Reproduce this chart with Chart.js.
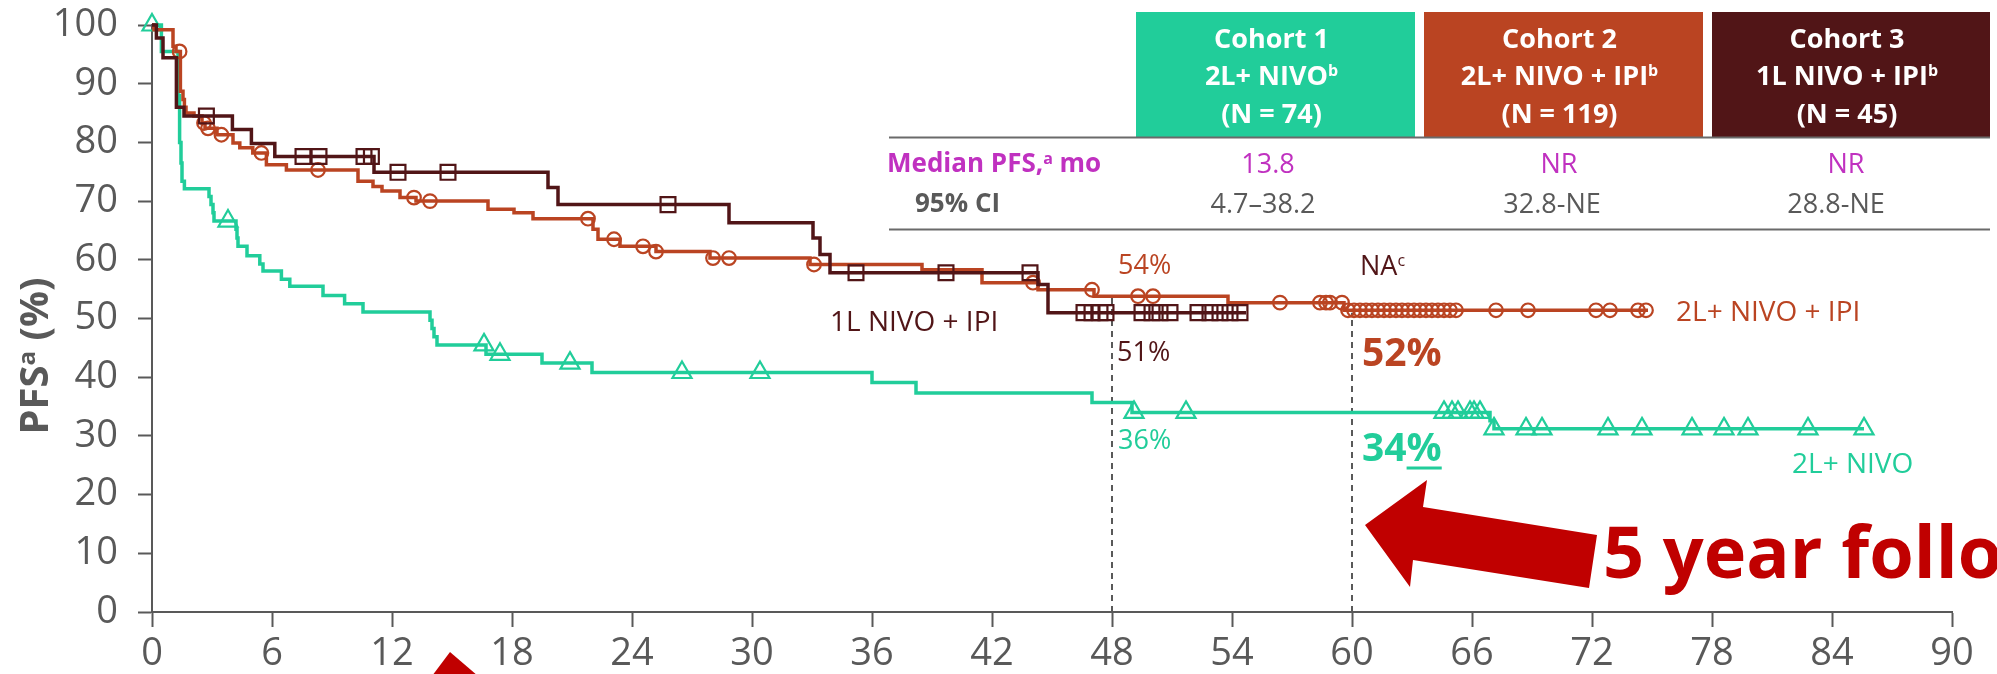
<!DOCTYPE html>
<html lang="en">
<head>
<meta charset="UTF-8">
<title>PFS by cohort</title>
<script src="https://cdn.jsdelivr.net/npm/chart.js"></script>
<style>
  html, body { margin: 0; padding: 0; background: #fff; }
</style>
</head>
<body>
<canvas id="pfsChart" width="1997" height="674"></canvas>
<script>
// KM curves: month of each drop and PFS (%) right after it
const nivoMonths = [0, 0.47, 1.3, 1.38, 1.45, 1.5, 1.62, 2.85, 2.95, 3.05, 3.1, 4.2, 4.25, 4.3, 4.75, 5.39, 5.55, 6.47, 6.89, 8.55, 9.63, 10.55, 13.9, 14.0, 14.1, 14.25, 16.7, 19.5, 22.0, 36.0, 38.2, 47.0, 49.0, 66.9, 67.1, 85.6];
const nivoPfs    = [100, 95.5, 88, 80, 76.5, 73.4, 72.1, 70.8, 69.4, 68.0, 66.6, 65.2, 63.7, 62.3, 60.7, 59.3, 58.1, 56.7, 55.5, 53.9, 52.5, 51.1, 49.7, 48.3, 46.9, 45.5, 43.9, 42.4, 40.8, 39.1, 37.3, 35.7, 34.0, 32.6, 31.2, 31.2];
const nivoCensored = [0, 3.8, 16.6, 17.4, 20.9, 26.5, 30.4, 49.1, 51.7, 64.6, 65.0, 65.3, 65.9, 66.1, 66.4, 67.1, 68.7, 69.5, 72.8, 74.5, 77.0, 78.6, 79.8, 82.8, 85.6];

const combo2Months = [0, 0.1, 1.05, 1.2, 1.42, 1.55, 1.62, 1.7, 2.1, 2.5, 2.65, 3.25, 4.05, 4.39, 5.04, 5.72, 6.72, 10.3, 11.05, 11.5, 12.4, 13.2, 16.8, 18.1, 19.05, 22.05, 22.3, 23.4, 25.2, 27.9, 32.9, 38.5, 41.5, 44.3, 47.1, 53.8, 59.6, 74.8];
const combo2Pfs    = [100, 99.2, 96.4, 95.5, 88.7, 87.3, 86.0, 85.0, 84.5, 83.3, 82.4, 81.3, 79.9, 79.1, 78.2, 76.2, 75.3, 73.4, 72.5, 71.7, 70.6, 70.0, 68.6, 68.0, 67.0, 65.2, 63.5, 62.3, 61.4, 60.3, 59.2, 58.3, 56.1, 54.9, 53.8, 52.7, 51.4, 51.4];
const combo2Censored = [1.38, 2.6, 2.8, 3.47, 5.47, 8.3, 13.1, 13.9, 21.8, 23.1, 24.55, 25.2, 28.05, 28.85, 33.1, 44.05, 47.0, 49.3, 50.05, 56.4, 58.4, 58.7, 58.9, 59.5, 59.8, 60.1, 60.4, 60.7, 61.0, 61.3, 61.6, 61.9, 62.2, 62.5, 62.8, 63.1, 63.4, 63.7, 64.0, 64.3, 64.6, 64.9, 65.2, 67.2, 68.8, 72.2, 72.9, 74.3, 74.7];

const combo1Months = [0, 0.22, 0.55, 1.22, 1.6, 4.02, 4.97, 6.14, 11.1, 19.8, 20.3, 28.85, 33.05, 33.4, 33.9, 44.3, 44.8, 54.7];
const combo1Pfs    = [100, 97.8, 94.4, 86.0, 84.5, 82.2, 79.8, 77.6, 74.9, 72.3, 69.4, 66.3, 63.7, 60.9, 57.8, 55.8, 51.0, 51.0];
const combo1Censored = [2.72, 7.55, 8.35, 10.6, 10.97, 12.3, 14.8, 25.8, 35.2, 39.7, 43.9, 46.6, 47.0, 47.4, 47.7, 49.5, 50.0, 50.4, 50.9, 52.3, 52.9, 53.4, 53.9, 54.4];

const monthTicks = [0, 6, 12, 18, 24, 30, 36, 42, 48, 54, 60, 66, 72, 78, 84, 90];
const pfsTicks = [0, 10, 20, 30, 40, 50, 60, 70, 80, 90, 100];

// table
const cohortNames = ['Cohort 1', 'Cohort 2', 'Cohort 3'];
const cohortRegimens = ['2L+ NIVO', '2L+ NIVO + IPI', '1L NIVO + IPI'];
const cohortN = ['(N = 74)', '(N = 119)', '(N = 45)'];
const medianPfs = ['13.8', 'NR', 'NR'];
const ci95 = ['4.7–38.2', '32.8-NE', '28.8-NE'];

// landmark rates
const landmarkMonths = [48, 60];
const landmarkTops = [53.5, 51.0];

const GREEN = '#21CD9A';
const ORANGE = '#BA4422';
const MAROON = '#511517';
const MAGENTA = '#C031C0';
const GRAY = '#595959';
const RED = '#C00000';
const FONT = '"Open Sans", Lato, sans-serif';

function curve(months, pfs) {
    return months.map((m, i) => ({ x: m, y: pfs[i] }));
}

// censor marks sit on the curve at their time
function censorPoints(censored, months, pfs) {
    return censored.map(t => {
        let v = pfs[0];
        for (let i = 0; i < months.length; i++) {
            if (months[i] <= t) v = pfs[i];
        }
        return { x: t, y: v };
    });
}

function drawRuns(ctx, runs, x, cy, size, weight, color, align) {
    const supSize = Math.round(size * 0.6);
    const widths = runs.map(([t, sup]) => {
        ctx.font = `${weight} ${sup ? supSize : size}px ${FONT}`;
        return ctx.measureText(t).width;
    });
    const total = widths.reduce((a, b) => a + b, 0);
    let cx = align === 'center' ? x - total / 2 : (align === 'right' ? x - total : x);
    const start = cx;
    const base = cy + size * 0.36;
    ctx.fillStyle = color;
    ctx.textAlign = 'left';
    ctx.textBaseline = 'alphabetic';
    runs.forEach(([t, sup], i) => {
        ctx.font = `${weight} ${sup ? supSize : size}px ${FONT}`;
        ctx.fillText(t, cx, sup ? base - size * 0.33 : base);
        cx += widths[i];
    });
    return { start, widths, base };
}

const overlay = {
    id: 'overlay',
    beforeDatasetsDraw(chart) {
        const ctx = chart.ctx;
        const xs = chart.scales.x, ys = chart.scales.y;
        ctx.save();
        ctx.strokeStyle = GRAY;
        ctx.lineWidth = 2;
        ctx.setLineDash([6, 5]);
        landmarkMonths.forEach((m, i) => {
            const px = Math.round(xs.getPixelForValue(m));
            ctx.beginPath();
            ctx.moveTo(px, ys.getPixelForValue(0));
            ctx.lineTo(px, ys.getPixelForValue(landmarkTops[i]));
            ctx.stroke();
        });
        ctx.restore();
    },
    afterDraw(chart) {
        const ctx = chart.ctx;
        const xs = chart.scales.x, ys = chart.scales.y;
        ctx.save();

        // y axis title
        ctx.save();
        ctx.translate(34, 356);
        ctx.rotate(-Math.PI / 2);
        drawRuns(ctx, [['PFS', false], ['a', true], [' (%)', false]], 0, 0, 40, 'bold', GRAY, 'center');
        ctx.restore();

        // header boxes
        const boxColors = [GREEN, ORANGE, MAROON];
        const boxLeft = [1136, 1424, 1712];
        const boxRight = [1415, 1703, 1990];
        boxColors.forEach((c, i) => {
            ctx.fillStyle = c;
            ctx.fillRect(boxLeft[i], 12, boxRight[i] - boxLeft[i], 125);
            const mid = (boxLeft[i] + boxRight[i]) / 2 - 4;
            drawRuns(ctx, [[cohortNames[i], false]], mid, 38, 27, 'bold', '#fff', 'center');
            drawRuns(ctx, [[cohortRegimens[i], false], ['b', true]], mid, 75, 27, 'bold', '#fff', 'center');
            drawRuns(ctx, [[cohortN[i], false]], mid, 113, 27, 'bold', '#fff', 'center');
        });
        ctx.strokeStyle = '#6a6a6a';
        ctx.lineWidth = 2;
        [137.5, 229.5].forEach(y => {
            ctx.beginPath();
            ctx.moveTo(889, y);
            ctx.lineTo(1990, y);
            ctx.stroke();
        });
        drawRuns(ctx, [['Median PFS,', false], ['a', true], [' mo', false]], 887, 163, 26, 'bold', MAGENTA, 'left');
        drawRuns(ctx, [['95% CI', false]], 915, 203, 26, 'bold', GRAY, 'left');
        const medCenters = [1268, 1559, 1846];
        const ciCenters = [1263, 1552, 1836];
        medianPfs.forEach((t, i) => drawRuns(ctx, [[t, false]], medCenters[i], 163, 27, 'normal', MAGENTA, 'center'));
        ci95.forEach((t, i) => drawRuns(ctx, [[t, false]], ciCenters[i], 203, 27, 'normal', GRAY, 'center'));

        // curve labels and landmark rates, placed in chart units
        const at = (m, v) => [xs.getPixelForValue(m), ys.getPixelForValue(v)];
        let p;
        p = at(48.3, 59.3); drawRuns(ctx, [['54%', false]], p[0], p[1], 27, 'normal', ORANGE, 'left');
        p = at(60.4, 59.1); drawRuns(ctx, [['NA', false], ['c', true]], p[0], p[1], 27, 'normal', MAROON, 'left');
        p = at(48.25, 44.5); drawRuns(ctx, [['51%', false]], p[0], p[1], 27, 'normal', MAROON, 'left');
        p = at(60.5, 44.3); drawRuns(ctx, [['52%', false]], p[0], p[1], 39, 'bold', ORANGE, 'left');
        p = at(48.3, 29.4); drawRuns(ctx, [['36%', false]], p[0], p[1], 27, 'normal', GREEN, 'left');
        p = at(60.5, 28.2);
        const r34 = drawRuns(ctx, [['34', false], ['%', false]], p[0], p[1], 39, 'bold', GREEN, 'left');
        ctx.fillStyle = GREEN;
        ctx.fillRect(r34.start + r34.widths[0], r34.base + 6, r34.widths[1], 3);
        p = at(33.9, 49.6); drawRuns(ctx, [['1L NIVO + IPI', false]], p[0], p[1], 28, 'normal', MAROON, 'left');
        p = at(76.2, 51.3); drawRuns(ctx, [['2L+ NIVO + IPI', false]], p[0], p[1], 28, 'normal', ORANGE, 'left');
        p = at(82.0, 25.4); drawRuns(ctx, [['2L+ NIVO', false]], p[0], p[1], 28, 'normal', GREEN, 'left');

        // red call-out arrow and text
        ctx.fillStyle = RED;
        ctx.beginPath();
        [[1365, 525], [1427, 480], [1423, 507], [1597, 535], [1589, 588], [1413, 560], [1410, 587]]
            .forEach(([x, y], i) => i ? ctx.lineTo(x, y) : ctx.moveTo(x, y));
        ctx.closePath();
        ctx.fill();
        ctx.beginPath();
        ctx.moveTo(450, 652);
        ctx.lineTo(478, 676);
        ctx.lineTo(432, 676);
        ctx.closePath();
        ctx.fill();
        ctx.font = `bold 72px ${FONT}`;
        ctx.textAlign = 'left';
        ctx.textBaseline = 'alphabetic';
        ctx.fillText('5 year follow-up', 1603, 578);

        ctx.restore();
    }
};

const lineDefaults = {
    stepped: 'before',
    borderWidth: 3.5,
    pointRadius: 0,
    fill: false,
    clip: false,
};

const markDefaults = {
    showLine: false,
    pointBorderWidth: 2.2,
    pointBackgroundColor: 'rgba(0,0,0,0)',
    clip: false,
};

new Chart(document.getElementById('pfsChart'), {
    type: 'line',
    data: {
        datasets: [
            { ...markDefaults, label: '1L NIVO + IPI censored', data: censorPoints(combo1Censored, combo1Months, combo1Pfs), pointStyle: 'rect', pointRadius: 10.5, pointBorderColor: MAROON },
            { ...lineDefaults, label: '1L NIVO + IPI', data: curve(combo1Months, combo1Pfs), borderColor: MAROON },
            { ...markDefaults, label: '2L+ NIVO + IPI censored', data: censorPoints(combo2Censored, combo2Months, combo2Pfs), pointStyle: 'circle', pointRadius: 6.8, pointBorderColor: ORANGE },
            { ...lineDefaults, label: '2L+ NIVO + IPI', data: curve(combo2Months, combo2Pfs), borderColor: ORANGE },
            { ...markDefaults, label: '2L+ NIVO censored', data: censorPoints(nivoCensored, nivoMonths, nivoPfs), pointStyle: 'triangle', pointRadius: 11, pointBorderColor: GREEN },
            { ...lineDefaults, label: '2L+ NIVO', data: curve(nivoMonths, nivoPfs), borderColor: GREEN },
        ],
    },
    options: {
        responsive: false,
        animation: false,
        events: [],
        layout: { padding: { top: 25, right: 45, left: 0, bottom: 0 } },
        plugins: {
            legend: { display: false },
            tooltip: { enabled: false },
        },
        scales: {
            x: {
                type: 'linear',
                min: 0,
                max: 90,
                afterBuildTicks: (scale) => { scale.ticks = monthTicks.map(v => ({ value: v })); },
                afterFit: (scale) => { scale.height = 62; scale.paddingLeft = 0; scale.paddingRight = 0; },
                ticks: { autoSkip: false, maxRotation: 0, padding: 4, color: GRAY, font: { family: FONT, size: 38 } },
                grid: { drawOnChartArea: false, drawTicks: true, tickLength: 15, tickWidth: 2, tickColor: GRAY },
                border: { color: GRAY, width: 2 },
            },
            y: {
                type: 'linear',
                min: 0,
                max: 100,
                afterBuildTicks: (scale) => { scale.ticks = pfsTicks.map(v => ({ value: v })); },
                afterFit: (scale) => { scale.width = 152; scale.paddingTop = 0; scale.paddingBottom = 0; },
                ticks: { autoSkip: false, padding: 20, color: GRAY, font: { family: FONT, size: 38 } },
                grid: { drawOnChartArea: false, drawTicks: true, tickLength: 14, tickWidth: 2, tickColor: GRAY },
                border: { color: GRAY, width: 2 },
            },
        },
    },
    plugins: [overlay],
});
</script>
</body>
</html>
